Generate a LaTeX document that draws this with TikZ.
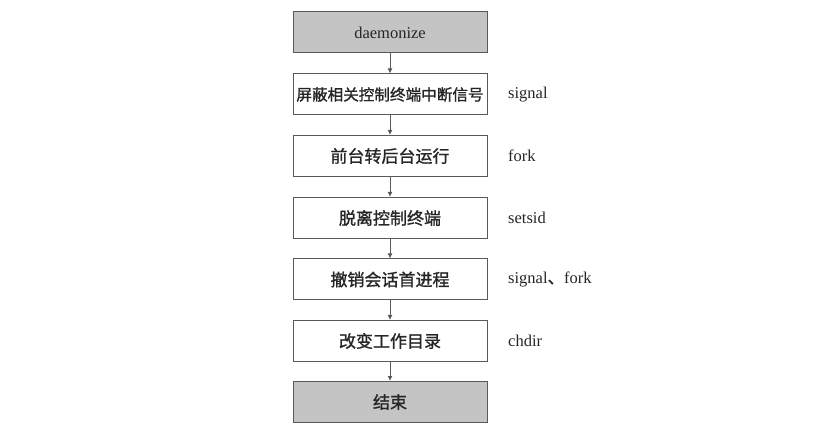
\documentclass[tikz,border=0pt]{standalone}
\usepackage{fontspec}
\setmainfont{Liberation Serif}
\newfontfamily\cjk[FakeBold=1.2]{Noto Sans CJK SC}
\usetikzlibrary{arrows.meta}
\begin{document}
\begin{tikzpicture}[x=1pt,y=-1pt,
  stepbox/.style={draw=black!65,line width=1pt,minimum width=194pt,minimum height=41pt,inner sep=0pt,font=\cjk\fontsize{17}{17}\selectfont,text=black!85},
  greybox/.style={stepbox,fill=black!23},
  lbl/.style={anchor=west,font=\fontsize{16.5}{16.5}\selectfont,text=black!85,inner sep=0pt},
  conn/.style={draw=black!65,line width=0.9pt,-{Latex[length=5pt,width=5pt]}}]
\useasboundingbox (0,0) rectangle (816,435);
\fill[white] (0,0) rectangle (816,435);
\node[greybox] (s0) at (390,32.5) {\fontsize{16.5}{16.5}\rmfamily daemonize};
\node[stepbox] (s1) at (390,94.5) {\fontsize{15.6}{15.6}\selectfont 屏蔽相关控制终端中断信号};
\node[stepbox] (s2) at (390,156) {前台转后台运行};
\node[stepbox] (s3) at (390,218) {脱离控制终端};
\node[stepbox] (s4) at (390,279.5) {撤销会话首进程};
\node[stepbox] (s5) at (390,341) {改变工作目录};
\node[greybox] (s6) at (390,402) {结束};
\node[lbl] (l1) at (508,95) {signal};
\node[lbl] (l2) at (508,156) {fork};
\node[lbl] (l3) at (508,218) {setsid};
\node[lbl] (l4) at (508,279.5) {signal{\cjk 、}fork};
\node[lbl] (l5) at (508,341) {chdir};
\draw[conn] (s0) -- (s1);
\draw[conn] (s1) -- (s2);
\draw[conn] (s2) -- (s3);
\draw[conn] (s3) -- (s4);
\draw[conn] (s4) -- (s5);
\draw[conn] (s5) -- (s6);
\end{tikzpicture}
\end{document}
